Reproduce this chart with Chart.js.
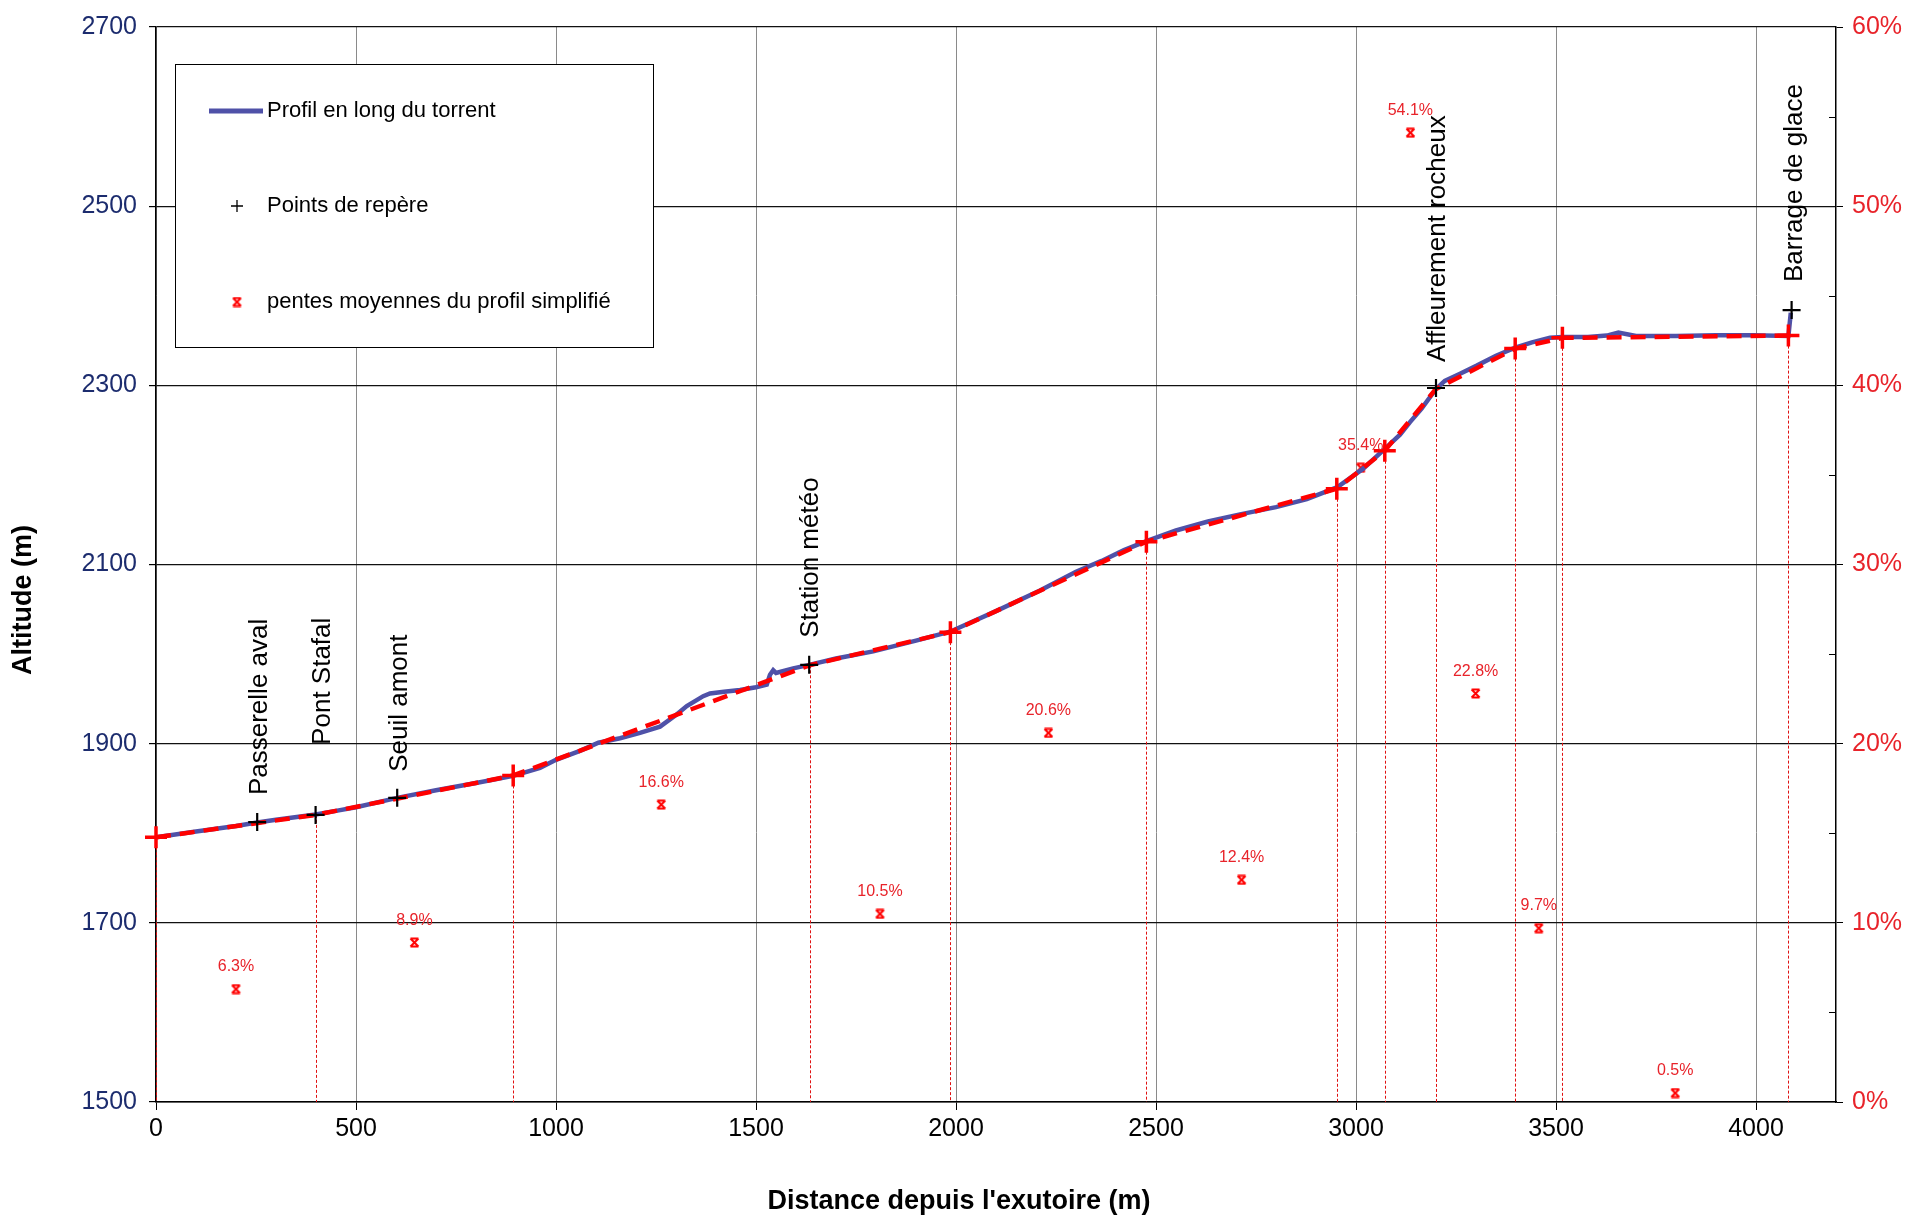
<!DOCTYPE html>
<html>
<head>
<meta charset="utf-8">
<script src="https://cdn.jsdelivr.net/npm/chart.js@4/dist/chart.umd.min.js"></script>
<style>
html,body{margin:0;padding:0;background:#fff;}
canvas{display:block;}
</style>
</head>
<body>
<canvas id="c" width="1916" height="1217"></canvas>
<script>
// ---------- DATA ----------
// Profil en long du torrent (distance m, altitude m)
const profileDist = [0, 100, 200, 253, 300, 399, 450, 500, 603, 700, 800, 893, 960, 1000, 1060, 1106, 1160, 1210, 1260, 1300, 1327, 1368, 1385, 1420, 1460, 1500, 1527, 1535, 1543, 1550, 1593, 1633, 1700, 1793, 1900, 1985, 2100, 2210, 2300, 2364, 2420, 2476, 2550, 2630, 2710, 2800, 2877, 2952, 3018, 3072, 3110, 3135, 3164, 3200, 3222, 3260, 3302, 3350, 3398, 3440, 3485, 3516, 3580, 3627, 3656, 3700, 3800, 3900, 3993, 4081, 4087];
const profileAlt  = [1795.5, 1802, 1808, 1812, 1815, 1821, 1825, 1829, 1839.5, 1848, 1856, 1864, 1873, 1882, 1892, 1901, 1906, 1912, 1919, 1932, 1942, 1953, 1956, 1958, 1960, 1963, 1966, 1977, 1982, 1979, 1984, 1988, 1995, 2003, 2015, 2025, 2048, 2071, 2092, 2104, 2116, 2126, 2138, 2148, 2156, 2164, 2173, 2186, 2207, 2229, 2245, 2259, 2274, 2296, 2305, 2313, 2322, 2333, 2342, 2348, 2353, 2354, 2354, 2355.5, 2359, 2355, 2355, 2356, 2356, 2355, 2381];

// Profil simplifié (sommets)
const simplDist = [0, 399, 893, 1634, 1986, 2476, 2952, 3072, 3200, 3398, 3516, 4081];
const simplAlt  = [1795.5, 1820.5, 1864.5, 1987.5, 2024.5, 2125.5, 2184.5, 2227, 2296, 2341, 2353, 2355.5];

// Points de repère
const repereNames = ['Passerelle aval', 'Pont Stafal', 'Seuil amont', 'Station météo', 'Affleurement rocheux', 'Barrage de glace'];
const repereDist  = [253, 399, 603, 1633, 3200, 4089];
const repereAlt   = [1812.5, 1820.5, 1839.5, 1988, 2297, 2384];

// Pentes moyennes du profil simplifié (%)
const slopeDist = [200, 646, 1263, 1810, 2231, 2714, 3012, 3136, 3299, 3457, 3798];
const slopePct  = [6.3, 8.9, 16.6, 10.5, 20.6, 12.4, 35.4, 54.1, 22.8, 9.7, 0.5];

// Tick labels
const distTicks = [0, 500, 1000, 1500, 2000, 2500, 3000, 3500, 4000];
const altTicks  = [1500, 1700, 1900, 2100, 2300, 2500, 2700];
const pctTicks  = [0, 10, 20, 30, 40, 50, 60];
const pctMinorTicks = [5, 15, 25, 35, 45, 55];
const distMin = 0, distMax = 4200;
const altMin = 1500, altMax = 2700;
const pctMin = 0, pctMax = 60;

const legendLabels = ['Profil en long du torrent', 'Points de repère', 'pentes moyennes du profil simplifié'];
const xTitle = "Distance depuis l'exutoire (m)";
const yTitle = 'Altitude (m)';

// ---------- STYLE ----------
const FONT = "'Liberation Sans', Arial, Helvetica, sans-serif";
const BLUE = '#4F51A8';
const RED = '#FF0000';
const LRED = '#E8232A';
const simplMarkerRadius = [11, 0, 11, 0, 11, 11, 11, 11, 0, 11, 11, 11];
const labelGap = [27, 70, 26, 27, 26, 28];
const labelDx = [3, 7, 3, 2, 2, 3];

function makeSlopeMarker() {
  const c = document.createElement('canvas');
  c.width = 11; c.height = 11;
  const g = c.getContext('2d');
  g.strokeStyle = RED; g.lineWidth = 2;
  g.beginPath();
  g.moveTo(1.5, 1.5); g.lineTo(9.5, 9.5);
  g.moveTo(9.5, 1.5); g.lineTo(1.5, 9.5);
  g.moveTo(1.5, 1.5); g.lineTo(9.5, 1.5);
  g.moveTo(1.5, 9.5); g.lineTo(9.5, 9.5);
  g.stroke();
  return c;
}
const slopeMarker = makeSlopeMarker();

const toXY = (xs, ys) => xs.map((x, i) => ({x: x, y: ys[i]}));
const fixTicks = vals => (s => { s.ticks = vals.map(v => ({value: v})); });

const extras = {
  id: 'extras',
  beforeDatasetsDraw(chart) {
    const ctx = chart.ctx, xs = chart.scales.x, ys = chart.scales.y, ca = chart.chartArea;
    ctx.save();
    ctx.strokeStyle = '#E01010';
    ctx.lineWidth = 1;
    ctx.setLineDash([3, 2]);
    simplDist.forEach((d, i) => {
      const px = Math.round(xs.getPixelForValue(d)) + 0.5;
      ctx.beginPath();
      ctx.moveTo(px, ys.getPixelForValue(simplAlt[i]));
      ctx.lineTo(px, ca.bottom);
      ctx.stroke();
    });
    ctx.restore();
  },
  afterDatasetsDraw(chart) {
    const ctx = chart.ctx, ca = chart.chartArea;
    ctx.save();
    // slope labels
    const sm = chart.getDatasetMeta(3);
    ctx.fillStyle = LRED;
    ctx.font = '16px ' + FONT;
    ctx.textAlign = 'center';
    ctx.textBaseline = 'alphabetic';
    sm.data.forEach((p, i) => {
      ctx.fillText(slopePct[i].toFixed(1) + '%', p.x, p.y - 18);
    });
    // landmark labels
    const lm = chart.getDatasetMeta(2);
    ctx.fillStyle = '#000';
    ctx.font = '26px ' + FONT;
    ctx.textAlign = 'left';
    ctx.textBaseline = 'middle';
    lm.data.forEach((p, i) => {
      ctx.save();
      ctx.translate(p.x + labelDx[i], p.y - labelGap[i]);
      ctx.rotate(-Math.PI / 2);
      ctx.fillText(repereNames[i], 0, 0);
      ctx.restore();
    });
    // minor ticks on right axis (inside)
    const y2 = chart.scales.y2;
    ctx.strokeStyle = '#000';
    ctx.lineWidth = 1;
    pctMinorTicks.forEach(v => {
      const py = Math.round(y2.getPixelForValue(v)) + 0.5;
      ctx.beginPath();
      ctx.moveTo(ca.right - 7, py);
      ctx.lineTo(ca.right, py);
      ctx.stroke();
    });
    ctx.restore();
  },
  afterDraw(chart) {
    const ctx = chart.ctx;
    ctx.save();
    // legend box
    ctx.fillStyle = '#fff';
    ctx.fillRect(175, 64, 478, 283);
    ctx.strokeStyle = '#000';
    ctx.lineWidth = 1;
    ctx.strokeRect(175.5, 64.5, 478, 283);
    ctx.strokeStyle = BLUE;
    ctx.lineWidth = 5;
    ctx.beginPath(); ctx.moveTo(209, 111); ctx.lineTo(263, 111); ctx.stroke();
    ctx.strokeStyle = '#000';
    ctx.lineWidth = 1.3;
    ctx.beginPath();
    ctx.moveTo(231, 206); ctx.lineTo(243, 206);
    ctx.moveTo(237, 200); ctx.lineTo(237, 212);
    ctx.stroke();
    ctx.drawImage(slopeMarker, 237 - 5.5, 302 - 5.5);
    ctx.fillStyle = '#000';
    ctx.font = '22px ' + FONT;
    ctx.textAlign = 'left';
    ctx.textBaseline = 'middle';
    ctx.fillText(legendLabels[0], 267, 111);
    ctx.fillText(legendLabels[1], 267, 206);
    ctx.fillText(legendLabels[2], 267, 302);
    // axis titles
    ctx.font = 'bold 27px ' + FONT;
    ctx.textAlign = 'center';
    ctx.textBaseline = 'middle';
    ctx.fillText(xTitle, 959, 1202);
    ctx.save();
    ctx.translate(24, 600);
    ctx.rotate(-Math.PI / 2);
    ctx.fillText(yTitle, 0, 0);
    ctx.restore();
    ctx.restore();
  }
};

new Chart(document.getElementById('c'), {
  type: 'line',
  data: {
    datasets: [
      {
        label: legendLabels[0],
        data: toXY(profileDist, profileAlt),
        borderColor: BLUE,
        borderWidth: 4.5,
        pointRadius: 0,
        tension: 0,
        yAxisID: 'y',
        order: 5
      },
      {
        label: 'profil simplifié',
        data: toXY(simplDist, simplAlt),
        borderColor: RED,
        borderWidth: 4.5,
        borderDash: [15, 9],
        pointStyle: 'cross',
        pointRadius: simplMarkerRadius,
        pointBorderColor: RED,
        pointBorderWidth: 3.5,
        tension: 0,
        yAxisID: 'y',
        clip: false,
        order: 4
      },
      {
        label: legendLabels[1],
        data: toXY(repereDist, repereAlt),
        showLine: false,
        pointStyle: 'cross',
        pointRadius: 9,
        pointBorderColor: '#000',
        pointBorderWidth: 2.2,
        yAxisID: 'y',
        clip: false,
        order: 1
      },
      {
        label: legendLabels[2],
        data: toXY(slopeDist, slopePct),
        showLine: false,
        pointStyle: slopeMarker,
        pointRadius: 5,
        yAxisID: 'y2',
        clip: false,
        order: 6
      }
    ]
  },
  options: {
    responsive: false,
    animation: false,
    devicePixelRatio: 1,
    layout: { padding: { top: 19, left: 0, right: 0, bottom: 0 } },
    plugins: { legend: { display: false }, tooltip: { enabled: false } },
    scales: {
      x: {
        type: 'linear',
        min: distMin, max: distMax,
        afterFit(s) { s.height = 115; },
        afterBuildTicks: fixTicks(distTicks),
        ticks: { color: '#000', font: { size: 25, family: FONT }, padding: 4, maxRotation: 0, autoSkip: false, callback: v => String(v) },
        grid: { color: '#8a8a8a', lineWidth: 1, tickColor: '#000', tickLength: 8 },
        border: { color: '#000', width: 1.5 }
      },
      y: {
        type: 'linear', position: 'left',
        min: altMin, max: altMax,
        afterFit(s) { s.width = 156; },
        afterBuildTicks: fixTicks(altTicks),
        ticks: { color: '#1C2C6E', font: { size: 25, family: FONT }, padding: 12, autoSkip: false, callback: v => String(v) },
        grid: { color: '#111', lineWidth: 1.2, tickColor: '#000', tickLength: 7 },
        border: { color: '#000', width: 1.5 }
      },
      y2: {
        type: 'linear', position: 'right',
        min: pctMin, max: pctMax,
        afterFit(s) { s.width = 80; },
        afterBuildTicks: fixTicks(pctTicks),
        ticks: { color: LRED, font: { size: 25, family: FONT }, padding: 9, autoSkip: false, callback: v => v + '%' },
        grid: { drawOnChartArea: false, tickColor: '#000', tickLength: 7 },
        border: { color: '#000', width: 1.5 }
      }
    }
  },
  plugins: [extras]
});
</script>
</body>
</html>
